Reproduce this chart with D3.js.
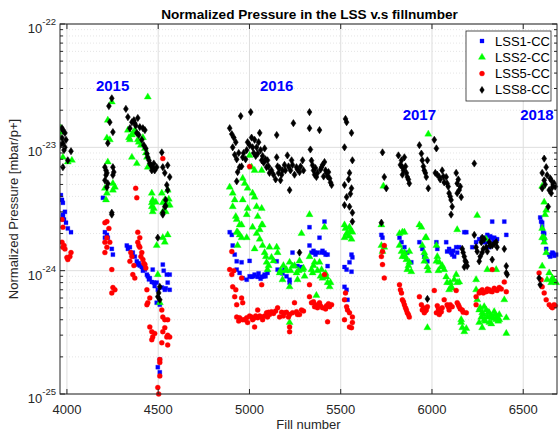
<!DOCTYPE html>
<html><head><meta charset="utf-8">
<script src="https://cdn.jsdelivr.net/npm/d3@7"></script>
<style>body{margin:0;background:#fff}svg{font-family:"Liberation Sans",Arial,Helvetica,sans-serif}</style>
</head><body><svg id="c" width="560" height="432"></svg>
<script>
const title = "Normalized Pressure in the LSS v.s fillnumber";
const xLabel = "Fill number";
const yLabel = "Normalized Pressure [mbar/p+]";
const xTicks = [4000, 4500, 5000, 5500, 6000, 6500];
const yDecades = [-25, -24, -23, -22];
const seriesNames = ["LSS1-CC", "LSS2-CC", "LSS5-CC", "LSS8-CC"];
const years = [["2015", 4250, 3.2e-23], ["2016", 5149, 3.2e-23], ["2017", 5931, 1.86e-23], ["2018", 6575, 1.86e-23]];

const lss1 = [[3967,4.1e-24],[3973,3.75e-24],[3978,3.55e-24],[3989,3.0e-24],[3978,2.75e-24],[3978,2.85e-24],[3984,2.6e-24],[3995,2.45e-24],[4005,2.2e-24],[4022,2.05e-24],
[4197,3.9e-24],[4208,2.05e-24],[4219,1.95e-24],[4208,1.85e-24],[4224,1.85e-24],[4246,1.5e-24],[4252,1.35e-24],
[4328,1.6e-24],[4334,1.5e-24],[4345,1.55e-24],[4356,1.35e-24],[4361,1.4e-24],[4372,1.3e-24],[4383,1.19e-24],[4388,1.12e-24],[4394,1.15e-24],[4399,1.1e-24],[4410,1.07e-24],[4416,1.0e-24],[4427,1.02e-24],[4438,9.3e-25],[4443,9.0e-25],[4449,8.5e-25],[4454,8.7e-25],[4465,8.1e-25],[4470,1.02e-24],[4476,8.0e-25],[4481,7.5e-25],[4492,8.0e-25],[4498,7.0e-25],[4520,7.3e-25],[4536,7.0e-25],[4541,7.2e-25],[4552,8.0e-25],[4563,7.0e-25],[4525,1.12e-24],[4530,1.0e-24],[4547,9.3e-25],[4563,9.3e-25],[4509,5.3e-25],[4492,5.5e-25],[4509,1.9e-25],[4509,1.5e-25],[4498,1.65e-25],
[4892,2.05e-24],[4903,1.95e-24],[4908,1.6e-24],[4919,1.35e-24],[4930,1.19e-24],[4957,1.17e-24],[5001,1.2e-24],[4930,1.02e-24],[4946,9.6e-25],[4963,8.7e-25],[4985,8.45e-25],[5001,9.0e-25],[5012,8.9e-25],[5023,9.0e-25],[5028,9.3e-25],[5045,8.9e-25],[5050,9.5e-25],[5061,8.6e-25],[5067,8.9e-25],[5078,9.0e-25],[5083,9.3e-25],[5088,9.0e-25],[5099,9.6e-25],[5149,1.19e-24],[5154,1.02e-24],[5165,1.0e-24],[5176,9.8e-25],[5181,9.5e-25],[5192,1.02e-24],[5203,9.0e-25],[5220,8.45e-25],[5220,8.0e-25],[5236,1.4e-24],[5263,1.09e-24],[5285,1.07e-24],[5329,2.25e-24],[5329,1.6e-24],[5340,1.4e-24],[5351,1.45e-24],[5357,1.4e-24],[5362,1.35e-24],[5373,1.4e-24],[5384,1.85e-24],[5395,1.4e-24],[5400,1.45e-24],[5411,1.4e-24],[5411,2.5e-24],[5417,1.35e-24],[5428,1.35e-24],[5428,1.09e-24],
[5521,1.07e-24],[5532,1.02e-24],[5559,1.35e-24],[5564,1.28e-24],[5548,1.17e-24],[5559,9.8e-25],[5521,7.4e-25],[5532,7.0e-25],[5537,5.8e-25],
[5723,1.95e-24],[5729,1.85e-24],[5822,1.85e-24],[5833,1.7e-24],[5849,1.55e-24],[5865,1.4e-24],[5887,1.17e-24],[5931,1.7e-24],[5947,1.5e-24],[5958,1.3e-24],[5975,1.19e-24],[6024,1.7e-24],[6029,1.5e-24],[6078,1.7e-24],[6083,1.43e-24],[6094,1.5e-24],[6105,1.4e-24],[6111,1.35e-24],[6116,1.45e-24],[6122,1.3e-24],[6133,1.55e-24],[6138,1.4e-24],[6149,1.55e-24],[6177,2.05e-24],[6188,2.05e-24],[6221,1.55e-24],[6242,1.7e-24],[6259,1.8e-24],[6275,1.85e-24],[6281,1.7e-24],[6292,1.8e-24],[6297,1.7e-24],[6303,1.95e-24],[6308,1.75e-24],[6314,1.55e-24],[6319,1.9e-24],[6325,1.85e-24],[6330,2.5e-24],[6336,1.75e-24],[6341,1.85e-24],[6346,1.8e-24],[6357,1.8e-24],[6396,2.5e-24],[6407,1.95e-24],
[6593,2.7e-24],[6598,2.5e-24],[6604,2.45e-24],[6604,2.25e-24],[6609,2.05e-24],[6615,2.0e-24],[6615,1.8e-24],[6626,1.5e-24],[6642,1.35e-24],[6648,1.3e-24],[6659,1.4e-24],[6664,1.38e-24],[6670,1.32e-24],[6680,1.35e-24]];

const lss2 = [[3961,1.2e-23],[3967,1.43e-23],[3973,1.33e-23],[3978,8.3e-24],[4005,7.6e-24],[4027,7.85e-24],
[4246,2.33e-23],[4224,1.66e-23],[4235,1.15e-23],[4219,1.19e-23],[4224,7.6e-24],[4208,4.65e-24],[4219,4.25e-24],[4252,5.1e-24],[4263,4.75e-24],[4252,4.5e-24],[4214,3.75e-24],
[4334,1.38e-23],[4340,1.2e-23],[4356,1.26e-23],[4345,1.15e-23],[4361,1.3e-23],[4372,1.38e-23],[4388,1.15e-23],[4394,1.1e-23],[4405,1.04e-23],[4416,1.2e-23],[4356,8.3e-24],[4383,7.4e-24],[4438,8.3e-24],[4443,2.56e-23],[4427,9.8e-24],[4432,9.0e-24],[4443,6.9e-24],
[4465,4.25e-24],[4470,3.75e-24],[4465,3.3e-24],[4470,3.0e-24],[4476,3.2e-24],[4487,3.6e-24],[4520,4.25e-24],[4525,3.55e-24],[4536,3.75e-24],[4541,3.0e-24],[4552,4.5e-24],[4552,3.4e-24],[4558,3.8e-24],[4525,3.0e-24],[4498,9.3e-25],[4552,1.95e-24],[4525,1.85e-24],[4536,1.7e-24],[4492,1.6e-24],[4509,5.5e-25],[4563,3.4e-24],[4465,3.55e-24],
[4892,4.75e-24],[4908,4.25e-24],[4919,3.75e-24],[4908,3.3e-24],[4930,2.6e-24],[4935,2.05e-24],[4957,1.85e-24],[4963,3.75e-24],[4963,5.6e-24],[4974,5.1e-24],[4990,4.65e-24],[5001,8.6e-24],[5012,6.9e-24],[5028,6.5e-24],[5017,4.25e-24],[5028,3.95e-24],[5039,3.3e-24],[5045,2.75e-24],[5056,2.15e-24],[5067,6.5e-24],[5067,3.2e-24],[5072,2.35e-24],[4990,3.2e-24],[4985,2.85e-24],[4946,2.35e-24],[4925,2.75e-24],
[4930,2.05e-24],[4946,1.95e-24],[4957,2.35e-24],[4985,1.85e-24],[5017,2.25e-24],[5039,2.0e-24],[5056,1.8e-24],[5067,2.35e-24],[5072,1.6e-24],[5083,1.4e-24],[5090,1.3e-24],[5094,1.17e-24],[5099,1.02e-24],[5105,1.1e-24],[5110,1.55e-24],[5121,1.28e-24],[5132,1.2e-24],[5149,1.55e-24],[5154,1.4e-24],[5165,9.6e-25],[5170,1.0e-24],[5181,8.45e-25],[5186,1.1e-24],[5197,1.0e-24],[5203,1.02e-24],[5220,1.17e-24],[5220,7.4e-25],[5225,1.0e-24],[5236,1.09e-24],[5247,1.1e-24],[5258,9.6e-25],[5263,8.45e-25],[5269,1.0e-24],[5274,1.2e-24],[5285,2.0e-24],[5291,1.02e-24],[5296,1.05e-24],[5302,9.0e-25],[5329,1.3e-24],[5329,2.85e-24],[5340,1.02e-24],[5346,9.6e-25],[5351,1.1e-24],[5357,1.17e-24],[5373,1.0e-24],[5384,1.17e-24],[5389,9.0e-25],[5395,1.02e-24],[5400,8.7e-25],[5411,2.25e-24],[5417,9.5e-25],[5422,8.9e-25],[5428,8.0e-25],[5439,7.4e-25],[5444,8.0e-25],[4935,1.6e-24],[5028,1.5e-24],[5220,3.8e-25],[5367,6.3e-25],
[5521,2.35e-24],[5526,2.2e-24],[5532,2.0e-24],[5537,2.0e-24],[5543,1.9e-24],[5548,2.25e-24],[5553,2.1e-24],[5559,1.8e-24],[5564,2.05e-24],[5521,1.85e-24],
[5734,4.85e-24],[5980,1.28e-23],[5723,2.35e-24],[5822,2.0e-24],[5849,2.05e-24],[5931,2.35e-24],[5942,2.25e-24],[5964,1.85e-24],[6138,2.15e-24],[6248,2.8e-24],
[5723,1.6e-24],[5739,1.55e-24],[5729,1.43e-24],[5838,2.05e-24],[5822,1.6e-24],[5833,1.43e-24],[5838,1.3e-24],[5849,1.4e-24],[5855,1.3e-24],[5860,1.23e-24],[5871,1.1e-24],[5876,1.43e-24],[5865,1.02e-24],[5887,9.8e-25],[5876,1.17e-24],[5947,1.6e-24],[5958,1.4e-24],[5964,1.3e-24],[5969,1.85e-24],[5958,1.19e-24],[5975,1.07e-24],[5980,1.0e-24],[5975,3.45e-25],[6024,1.6e-24],[6024,1.19e-24],[6029,1.3e-24],[6035,1.0e-24],[6040,1.17e-24],[6051,1.07e-24],[6056,1.1e-24],[6067,1.02e-24],[6078,8.9e-25],[6083,8.0e-25],[6094,7.0e-25],[6100,8.0e-25],[6105,7.4e-25],[6111,7.2e-25],[6122,8.45e-25],[6133,9.3e-25],[6138,8.0e-25],[6149,8.1e-25],
[6160,4.0e-25],[6166,3.45e-25],[6177,3.2e-25],[6160,3.8e-25],[6188,3.4e-25],[6242,8.45e-25],[6242,7.0e-25],[6248,5.8e-25],[6259,4.8e-25],[6264,5.0e-25],[6270,4.2e-25],[6275,4.55e-25],[6281,4.4e-25],[6286,4.0e-25],[6292,3.9e-25],[6297,4.8e-25],[6303,4.2e-25],[6308,4.6e-25],[6314,4.55e-25],[6319,4.3e-25],[6325,3.7e-25],[6330,4.2e-25],[6336,4.1e-25],[6341,4.65e-25],[6346,4.4e-25],[6352,4.0e-25],[6357,4.2e-25],[6363,3.9e-25],[6369,4.4e-25],[6303,1.02e-24],[6297,1.8e-24],[6352,1.02e-24],[6396,5.8e-25],[6407,4.15e-25],[6407,3.1e-25],[6259,3.8e-25],[6275,3.45e-25],[6314,3.8e-25],[6369,4.0e-25],[6286,5.1e-25],
[6604,4.85e-24],[6615,3.6e-24],[6626,3.1e-24],[6620,2.85e-24],[6604,2.2e-24],[6615,1.85e-24],[6604,1.85e-24],[6615,1.7e-24],[6626,1.4e-24],[6604,1.09e-24],[6642,9.6e-25],[6653,8.0e-25],[6659,8.7e-25],[6664,8.5e-25],[6670,8.2e-25],[6680,8.0e-25],[6631,8.45e-25]];

const lss5 = [[3973,2.6e-24],[3978,2.25e-24],[3978,1.55e-24],[3989,1.5e-24],[4000,1.28e-24],[4005,1.23e-24],[4022,1.4e-24],[3984,1.6e-24],[3973,1.7e-24],[4016,1.3e-24],
[4208,2.45e-24],[4219,2.5e-24],[4230,2.2e-24],[4219,1.85e-24],[4208,1.7e-24],[4219,1.55e-24],[4208,1.4e-24],[4235,1.7e-24],[4246,1.02e-24],[4252,7.3e-25],[4246,6.6e-25],[4263,7.0e-25],[4377,4.65e-24],[4383,3.9e-24],
[4388,2.05e-24],[4399,1.85e-24],[4388,1.7e-24],[4399,1.55e-24],[4394,1.6e-24],[4405,1.3e-24],[4410,1.4e-24],[4416,1.23e-24],[4421,1.15e-24],[4427,1.12e-24],[4432,1.05e-24],[4350,1.4e-24],[4356,1.3e-24],[4345,1.19e-24],[4367,1.1e-24],[4361,9.3e-25],[4372,8.7e-25],[4438,7.0e-25],[4454,6.0e-25],[4443,5.5e-25],[4438,5.3e-25],[4454,3.5e-25],[4465,3.2e-25],[4470,2.9e-25],[4481,3.1e-25],[4465,2.75e-25],[4520,4.8e-25],[4525,4.2e-25],[4536,4.0e-25],[4552,4.0e-25],[4536,3.45e-25],[4525,3.2e-25],[4547,2.9e-25],[4552,3.0e-25],[4563,2.9e-25],[4520,2.6e-25],[4552,2.5e-25],[4509,1.9e-25],[4509,1.8e-25],[4509,1.4e-25],[4498,1.13e-25],[4503,1.0e-25],[4525,8.1e-24],
[4903,1.43e-24],[4892,1.02e-24],[4903,9.3e-25],[4914,1.0e-24],[4908,7.4e-25],[4925,7.0e-25],[4919,6.15e-25],[4930,5.3e-25],[4957,6.0e-25],[4957,8.7e-25],[4963,5.5e-25],[4930,4.2e-25],[4941,3.9e-25],[4946,4.15e-25],[4963,4.0e-25],[4974,4.0e-25],[4985,4.15e-25],[4990,3.8e-25],[5001,4.3e-25],[5012,4.2e-25],[5017,4.0e-25],[5023,4.1e-25],[5028,3.5e-25],[5034,4.3e-25],[5045,4.15e-25],[5045,4.8e-25],[5056,4.3e-25],[5067,4.2e-25],[5072,4.0e-25],[5067,7.7e-25],[5083,4.3e-25],[5094,4.55e-25],[5099,4.2e-25],[5105,4.6e-25],[5110,4.4e-25],[5121,4.65e-25],[5132,4.5e-25],[5143,4.7e-25],[5154,5.0e-25],[5165,4.2e-25],[5176,4.6e-25],[5186,4.3e-25],[5192,4.55e-25],[5203,4.6e-25],[5214,4.2e-25],[5220,4.4e-25],[5220,3.5e-25],[5220,3.2e-25],[5236,4.55e-25],[5247,5.5e-25],[5258,4.65e-25],[5263,4.4e-25],[5274,4.4e-25],[5285,4.8e-25],[5296,4.7e-25],[5329,7.7e-25],[5329,6.15e-25],[5340,5.5e-25],[5351,5.6e-25],[5357,5.1e-25],[5362,5.3e-25],[5373,5.0e-25],[5384,5.5e-25],[5389,5.2e-25],[5400,5.0e-25],[5411,9.3e-25],[5417,4.9e-25],[5422,5.2e-25],[5428,3.85e-25],[5433,5.4e-25],[5439,5.1e-25],[5450,5.3e-25],[5001,7.0e-24],
[5521,5.8e-25],[5526,6.6e-25],[5532,5.1e-25],[5537,4.8e-25],[5548,4.55e-25],[5564,4.2e-25],[5559,3.45e-25],[5548,3.5e-25],[5521,4.0e-25],[5564,3.8e-25],
[5723,1.3e-24],[5729,1.43e-24],[5739,1.6e-24],[5729,1.12e-24],[5739,8.7e-25],[5822,7.7e-25],[5827,7.0e-25],[5833,6.6e-25],[5838,5.8e-25],[5844,5.6e-25],[5849,5.3e-25],[5855,5.0e-25],[5860,4.8e-25],[5865,4.55e-25],[5871,4.4e-25],[5876,4.2e-25],[5931,6.15e-25],[5942,5.3e-25],[5947,4.8e-25],[5953,5.0e-25],[5958,4.55e-25],[5964,4.7e-25],[5969,4.8e-25],[5975,5.1e-25],[6013,6.9e-25],[6024,4.55e-25],[6029,5.2e-25],[6035,4.9e-25],[6040,4.4e-25],[6045,4.6e-25],[6051,4.65e-25],[6056,5.0e-25],[6067,5.8e-25],[6083,5.3e-25],[6089,5.1e-25],[6094,4.8e-25],[6100,5.3e-25],[6111,5.1e-25],[6133,6.9e-25],[6138,5.5e-25],[6144,5.3e-25],[6149,5.1e-25],[6155,4.9e-25],[6166,4.8e-25],[6171,4.6e-25],[6188,4.55e-25],[6242,6.15e-25],[6242,5.3e-25],[6259,6.6e-25],[6264,6.8e-25],[6275,7.0e-25],[6281,6.6e-25],[6297,6.75e-25],[6303,7.1e-25],[6314,7.0e-25],[6319,6.8e-25],[6330,6.75e-25],[6341,7.2e-25],[6352,7.0e-25],[6357,6.9e-25],[6369,7.3e-25],[6380,7.1e-25],[6407,6.75e-25],[6330,1.02e-24],[6396,8.1e-25],
[6587,9.6e-25],[6598,8.45e-25],[6604,7.4e-25],[6615,6.6e-25],[6626,5.8e-25],[6642,5.3e-25],[6653,5.1e-25],[6660,5.0e-25],[6669,5.3e-25],[6675,5.2e-25]];

const lss8 = [[3962,1.04e-23],[3973,1.43e-23],[3978,1.38e-23],[3989,1.31e-23],[3973,1.19e-23],[3978,1.08e-23],[3984,9.5e-24],[3995,1.15e-23],[3989,1.0e-23],[4005,7.85e-24],[4022,9.3e-24],[3978,6.9e-24],
[4246,2.5e-23],[4230,2.16e-23],[4235,1.6e-23],[4224,1.08e-23],[4252,1.33e-23],[4208,6.9e-24],[4214,6.5e-24],[4219,6.2e-24],[4208,5.4e-24],[4219,4.75e-24],[4214,5.95e-24],[4224,5.1e-24],[4252,6.9e-24],[4257,6.3e-24],[4252,5.95e-24],[4246,2.95e-24],[4246,2.85e-24],
[4323,2.05e-23],[4334,1.76e-23],[4345,1.43e-23],[4356,1.6e-23],[4367,1.66e-23],[4372,1.57e-23],[4377,1.5e-23],[4388,1.73e-23],[4399,1.46e-23],[4383,1.31e-23],[4394,1.26e-23],[4410,1.15e-23],[4416,1.43e-23],[4421,1.04e-23],[4427,1.38e-23],[4432,9.8e-24],[4438,8.9e-24],[4443,8.3e-24],[4449,7.85e-24],[4454,7.4e-24],[4460,7.15e-24],[4465,6.5e-24],[4470,6.9e-24],[4476,7.4e-24],[4481,6.5e-24],[4492,6.9e-24],
[4520,9.1e-24],[4525,6.9e-24],[4536,6.2e-24],[4552,7.15e-24],[4563,5.75e-24],[4547,4.95e-24],[4552,4.5e-24],[4541,3.75e-24],[4536,3.3e-24],[4525,2.85e-24],[4541,3.35e-24],[4525,2.95e-24],[4498,1.85e-24],[4509,7.4e-25],[4498,6.15e-25],[4509,5.8e-25],[4503,6.6e-25],
[4952,1.79e-23],[5007,1.93e-23],[4892,1.43e-23],[4903,1.28e-23],[4908,1.0e-23],[4914,1.2e-23],[4919,8.7e-24],[4925,1.1e-23],[4930,8.0e-24],[4935,6.3e-24],[4941,9.0e-24],[4946,6.9e-24],[4930,5.3e-24],[4957,7.0e-24],[4963,8.3e-24],[4968,9.0e-24],[4979,8.0e-24],[4985,9.5e-24],[4990,1.1e-23],[5001,1.04e-23],[5012,1.2e-23],[5017,1.0e-23],[5023,9.0e-24],[5028,1.15e-23],[5034,8.5e-24],[5039,1.0e-23],[5045,8.9e-24],[5050,1.1e-23],[5056,1.31e-23],[5061,9.5e-24],[5067,7.85e-24],[5072,8.5e-24],[5078,7.5e-24],[5083,9.8e-24],[5088,8.0e-24],[5094,6.9e-24],[5099,7.85e-24],[5105,7.0e-24],[5110,6.2e-24],[5121,6.5e-24],[5132,6.0e-24],[5143,5.5e-24],[5149,1.26e-23],[5149,8.3e-24],[5154,7.0e-24],[5159,6.2e-24],[5165,6.8e-24],[5170,5.4e-24],[5176,6.0e-24],[5181,6.5e-24],[5192,7.2e-24],[5197,6.5e-24],[5208,8.6e-24],[5214,7.0e-24],[5220,4.5e-24],[5225,6.5e-24],[5231,7.85e-24],[5236,7.2e-24],[5241,1.57e-23],[5247,6.0e-24],[5258,6.9e-24],[5263,6.6e-24],[5274,6.3e-24],[5280,7.0e-24],[5291,7.85e-24],[5296,6.5e-24],[5329,1.93e-23],[5329,1.43e-23],[5334,9.6e-24],[5340,7.8e-24],[5346,7.15e-24],[5351,6.5e-24],[5357,6.0e-24],[5362,6.8e-24],[5367,5.75e-24],[5373,6.2e-24],[5384,1.38e-23],[5389,6.6e-24],[5395,6.9e-24],[5400,7.2e-24],[5406,5.8e-24],[5411,7.6e-24],[5417,6.5e-24],[5422,6.2e-24],[5428,5.8e-24],[5433,6.3e-24],[5439,5.6e-24],[5444,5.2e-24],[5450,4.95e-24],[5274,1.4e-24],
[5532,1.6e-23],[5526,1.7e-23],[5521,1.0e-23],[5559,1.31e-23],[5564,7.85e-24],[5548,6.2e-24],[5543,5.5e-24],[5521,4.95e-24],[5559,4.65e-24],[5553,4.2e-24],[5532,3.95e-24],[5548,3.3e-24],[5564,2.95e-24],[5521,3.4e-24],[5564,2.5e-24],
[5729,9.1e-24],[5739,5.75e-24],[5750,4.65e-24],[5723,2.45e-24],[5816,8.6e-24],[5827,7.2e-24],[5833,7.85e-24],[5838,6.9e-24],[5838,6.0e-24],[5844,6.5e-24],[5849,8.3e-24],[5855,7.0e-24],[5860,6.2e-24],[5865,5.75e-24],[5871,5.5e-24],[5876,5.1e-24],[5931,1.04e-23],[5942,8.9e-24],[5947,7.85e-24],[5953,7.0e-24],[5958,6.5e-24],[5964,6.2e-24],[5969,5.75e-24],[5975,7.85e-24],[5980,4.65e-24],[6013,1.15e-23],[6024,9.8e-24],[6018,6.2e-24],[6029,6.0e-24],[6040,5.75e-24],[6045,5.5e-24],[6056,6.5e-24],[6062,5.8e-24],[6067,5.2e-24],[6078,5.75e-24],[6083,5.1e-24],[6089,4.8e-24],[6094,4.25e-24],[6100,4.0e-24],[6105,3.75e-24],[6111,3.3e-24],[6105,2.85e-24],[6133,6.2e-24],[6138,5.1e-24],[6144,5.5e-24],[6149,4.5e-24],[6155,4.8e-24],[6160,3.95e-24],[6138,4.25e-24],[6232,7.4e-24],
[5975,5.9e-25],[6166,1.5e-24],[6171,1.4e-24],[6177,1.3e-24],[6182,1.2e-24],[6188,1.17e-24],[6177,1.07e-24],[6193,1.09e-24],[6232,1.95e-24],[6242,1.55e-24],[6248,1.43e-24],[6259,1.19e-24],[6264,1.3e-24],[6270,1.7e-24],[6275,1.4e-24],[6275,1.85e-24],[6281,1.5e-24],[6286,1.8e-24],[6297,1.55e-24],[6303,1.43e-24],[6314,1.7e-24],[6319,1.6e-24],[6330,1.6e-24],[6330,1.23e-24],[6341,1.65e-24],[6352,1.7e-24],[6357,1.55e-24],[6396,1.5e-24],[6407,1.09e-24],[6407,9.6e-25],[6412,9.3e-25],
[6615,8.1e-24],[6626,6.9e-24],[6604,6.2e-24],[6615,5.4e-24],[6620,5.0e-24],[6631,5.95e-24],[6648,5.6e-24],[6653,5.4e-24],[6659,4.75e-24],[6642,4.5e-24],[6664,5.0e-24],[6669,5.1e-24],[6675,4.8e-24],[6653,4.25e-24],[6604,4.65e-24],[6637,3.3e-24],[6587,8.7e-25],[6593,7.7e-25]];

const colors = ["#0000ff", "#00ff00", "#ff0000", "#000000"];

const svg = d3.select("#c");
const L = 60, R = 557, T = 24, B = 394;
const x = d3.scaleLinear().domain([3962, 6685]).range([L, R]);
const y = d3.scaleLog().domain([1e-25, 1e-22]).range([B, T]);

svg.append("rect").attr("x", L).attr("y", T).attr("width", R - L).attr("height", B - T).attr("fill", "#fff");

const minors = [];
yDecades.slice(0, -1).forEach(e => { for (let m = 2; m <= 9; m++) minors.push(m * Math.pow(10, e)); });
const grid = svg.append("g");
grid.selectAll(".mg").data(minors).join("line")
  .attr("x1", L).attr("x2", R).attr("y1", d => y(d)).attr("y2", d => y(d))
  .attr("stroke", "#d4d4d4").attr("stroke-width", 0.6).attr("stroke-dasharray", "1,2");
grid.selectAll(".gy").data(yDecades.map(e => Math.pow(10, e))).join("line")
  .attr("x1", L).attr("x2", R).attr("y1", d => y(d)).attr("y2", d => y(d))
  .attr("stroke", "#dedede").attr("stroke-width", 1);
grid.selectAll(".gx").data(xTicks).join("line")
  .attr("x1", d => x(d)).attr("x2", d => x(d)).attr("y1", T).attr("y2", B)
  .attr("stroke", "#dedede").attr("stroke-width", 1);

const plot = svg.append("g");
svg.append("clipPath").attr("id", "pc").append("rect").attr("x", L).attr("y", T - 4).attr("width", R - L + 4).attr("height", B - T + 8);
plot.attr("clip-path", "url(#pc)");

const sq = d3.symbol().type(d3.symbolSquare).size(16);
const tri = d3.symbol().type(d3.symbolTriangle).size(22);
const cir = d3.symbol().type(d3.symbolCircle).size(20);
const dia = "M0,-3.6L2.4,0L0,3.6L-2.4,0Z";
const shapes = [sq(), tri(), cir(), dia];
const data = [lss1, lss2, lss5, lss8];
data.forEach((s, i) => {
  plot.append("g").selectAll("path").data(s).join("path")
    .attr("d", shapes[i])
    .attr("transform", d => `translate(${x(d[0]).toFixed(1)},${y(d[1]).toFixed(1)})`)
    .attr("fill", colors[i]).attr("stroke", colors[i]).attr("stroke-width", i === 3 ? 0.6 : 0.3);
});

// years
svg.append("g").selectAll("text").data(years).join("text")
  .attr("x", d => x(d[1])).attr("y", d => y(d[2]) + 5.5)
  .attr("text-anchor", "middle").attr("font-size", 15).attr("font-weight", "bold").attr("fill", "#0000ff")
  .text(d => d[0]);

// axes box and ticks
const ax = svg.append("g").attr("stroke", "#262626").attr("fill", "none");
ax.append("rect").attr("x", L).attr("y", T).attr("width", R - L).attr("height", B - T).attr("stroke-width", 1);
xTicks.forEach(t => {
  ax.append("line").attr("x1", x(t)).attr("x2", x(t)).attr("y1", B).attr("y2", B - 5);
  ax.append("line").attr("x1", x(t)).attr("x2", x(t)).attr("y1", T).attr("y2", T + 5);
});
yDecades.forEach(e => {
  const v = Math.pow(10, e);
  ax.append("line").attr("x1", L).attr("x2", L + 5).attr("y1", y(v)).attr("y2", y(v));
  ax.append("line").attr("x1", R).attr("x2", R - 5).attr("y1", y(v)).attr("y2", y(v));
});
minors.forEach(v => {
  ax.append("line").attr("x1", L).attr("x2", L + 3).attr("y1", y(v)).attr("y2", y(v));
  ax.append("line").attr("x1", R).attr("x2", R - 3).attr("y1", y(v)).attr("y2", y(v));
});

const tl = svg.append("g").attr("fill", "#262626");
tl.selectAll(".xt").data(xTicks).join("text")
  .attr("x", d => x(d)).attr("y", 414).attr("text-anchor", "middle").attr("font-size", 13).text(d => d);
yDecades.forEach(e => {
  const yy = y(Math.pow(10, e));
  const t = tl.append("text").attr("x", 56).attr("y", yy + 9).attr("text-anchor", "end").attr("font-size", 13);
  t.append("tspan").text("10");
  t.append("tspan").attr("dy", -8).attr("font-size", 9.5).text("-" + (-e));
});
tl.append("text").attr("x", (L + R) / 2).attr("y", 429).attr("text-anchor", "middle").attr("font-size", 13).text(xLabel);
tl.append("text").attr("transform", `translate(18,${(T + B) / 2}) rotate(-90)`).attr("text-anchor", "middle").attr("font-size", 13).text(yLabel);
svg.append("text").attr("x", (L + R) / 2 + 1).attr("y", 18.5).attr("text-anchor", "middle").attr("font-size", 13.6).attr("font-weight", "bold").attr("fill", "#000").text(title);

// legend
const lg = svg.append("g");
lg.append("rect").attr("x", 466).attr("y", 31).attr("width", 85).attr("height", 70).attr("fill", "#fff").attr("stroke", "#262626").attr("stroke-width", 0.8);
seriesNames.forEach((n, i) => {
  const yy = 41 + i * 16.3;
  lg.append("path").attr("d", shapes[i]).attr("transform", `translate(482,${yy})`).attr("fill", colors[i]).attr("stroke", colors[i]).attr("stroke-width", 0.3);
  lg.append("text").attr("x", 495).attr("y", yy + 4.5).attr("font-size", 13).attr("fill", "#000").text(n);
});
</script></body></html>
